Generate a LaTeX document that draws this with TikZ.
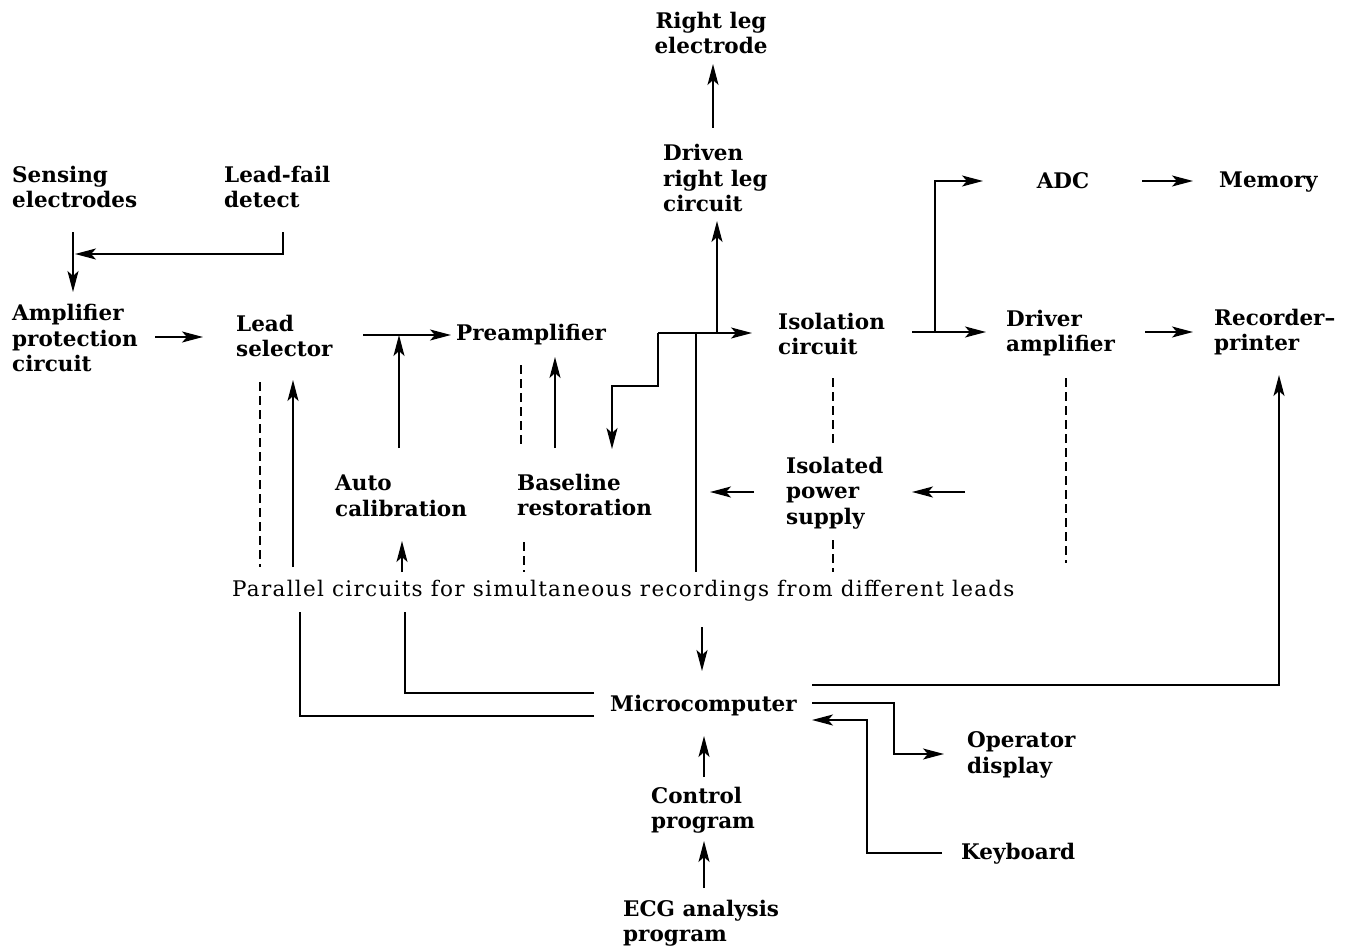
\documentclass[tikz,border=0pt]{standalone}
\usepackage{fontspec}
\setmainfont{DejaVu Serif}
\newfontfamily\parfont[LetterSpace=6]{DejaVu Serif}
\usetikzlibrary{arrows.meta}
\begin{document}
\begin{tikzpicture}[x=1pt,y=-1pt,
  lbl/.style={inner sep=0pt,anchor=west,align=left,font=\fontsize{21.5}{25.5}\selectfont\bfseries},
  plain/.style={inner sep=0pt,anchor=west,font=\parfont\fontsize{21.5}{25.5}\selectfont},
  wire/.style={line width=1.8pt},
  arr/.style={wire,-{Stealth[length=21pt,width=11pt,inset=5pt]}},
  dash line/.style={line width=1.8pt,dash pattern=on 9pt off 5pt}]
\useasboundingbox (0,0) rectangle (1353,947);
% nodes
\node[lbl,anchor=center,align=center] (rle) at (711,33) {Right leg\\electrode};
\node[lbl] (drl) at (663,178) {Driven\\right leg\\circuit};
\node[lbl] (sens) at (12,187) {Sensing\\electrodes};
\node[lbl] (lfd) at (224,187) {Lead-fail\\detect};
\node[lbl,anchor=center] (adc) at (1063,181) {ADC};
\node[lbl] (mem) at (1219,182) {Memory};
\node[lbl] (amp) at (12,338) {Amplifier\\protection\\circuit};
\node[lbl] (lsel) at (236,336) {Lead\\selector};
\node[lbl] (pre) at (456,335) {Preamplifier};
\node[lbl] (iso) at (778,334) {Isolation\\circuit};
\node[lbl] (drv) at (1006,333) {Driver\\amplifier};
\node[lbl] (rec) at (1214,332) {Recorder--\\printer};
\node[lbl] (auto) at (335,496) {Auto\\calibration};
\node[lbl] (base) at (517,495) {Baseline\\restoration};
\node[lbl] (ips) at (786,493) {Isolated\\power\\supply};
\node[plain] (par) at (232,591) {Parallel circuits for simultaneous recordings from different leads};
\node[lbl] (micro) at (610,706) {Microcomputer};
\node[lbl] (opd) at (967,755) {Operator\\display};
\node[lbl] (ctrl) at (651,810) {Control\\program};
\node[lbl] (kbd) at (961,854) {Keyboard};
\node[lbl] (ecg) at (623,923) {ECG analysis\\program};
% connectors
\draw[arr] (73,232) -- (73,292);
\draw[arr] (283,232) -- (283,254) -- (75,254);
\draw[arr] (155,337) -- (203,337);
\draw[arr] (363,335) -- (451,335);
\draw[arr] (399,448) -- (399,335);
\draw[dash line] (260,382) -- (260,567);
\draw[arr] (293,567) -- (293,380);
\draw[dash line] (521,365) -- (521,448);
\draw[arr] (555,448) -- (555,357);
\draw[arr] (658,333) -- (658,386) -- (612,386) -- (612,449);
\draw[arr] (658,333) -- (752,333);
\draw[arr] (717,333) -- (717,221);
\draw[arr] (713,128) -- (713,64);
\draw[wire] (696,333) -- (696,572);
\draw[arr] (702,627) -- (702,671);
\draw[arr] (912,332) -- (986,332);
\draw[arr] (935,332) -- (935,181) -- (983,181);
\draw[arr] (1142,181) -- (1193,181);
\draw[arr] (1145,332) -- (1193,332);
\draw[dash line] (833,378) -- (833,447);
\draw[dash line] (833,540) -- (833,572);
\draw[arr] (965,492) -- (912,492);
\draw[arr] (754,492) -- (710,492);
\draw[arr] (402,572) -- (402,541);
\draw[dash line] (524,542) -- (524,572);
\draw[dash line] (1066,378) -- (1066,563);
\draw[arr] (812,685) -- (1279,685) -- (1279,375);
\draw[wire] (594,693) -- (405,693) -- (405,612);
\draw[wire] (594,716) -- (300,716) -- (300,612);
\draw[arr] (812,703) -- (894,703) -- (894,754) -- (944,754);
\draw[arr] (942,853) -- (867,853) -- (867,720) -- (812,720);
\draw[arr] (704,777) -- (704,736);
\draw[arr] (704,888) -- (704,841);
\end{tikzpicture}
\end{document}
